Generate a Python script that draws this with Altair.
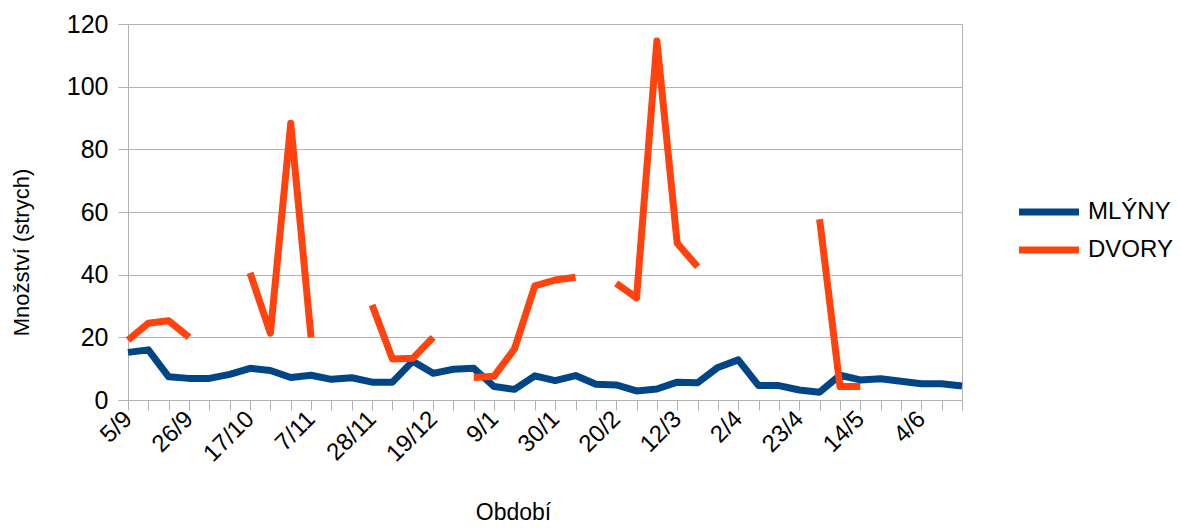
import json
import altair as alt
import pandas as pd

dates = ["5/9", "12/9", "19/9", "26/9", "3/10", "10/10", "17/10", "24/10", "31/10",
         "7/11", "14/11", "21/11", "28/11", "5/12", "12/12", "19/12", "26/12", "2/1",
         "9/1", "16/1", "23/1", "30/1", "6/2", "13/2", "20/2", "27/2", "5/3", "12/3",
         "19/3", "26/3", "2/4", "9/4", "16/4", "23/4", "30/4", "7/5", "14/5", "21/5",
         "28/5", "4/6", "11/6", "18/6"]

mlyny = [15.2, 16.0, 7.4, 6.9, 6.9, 8.2, 10.1, 9.4, 7.2, 7.9, 6.6, 7.1, 5.7, 5.7,
         12.4, 8.5, 9.8, 10.1, 4.3, 3.4, 7.7, 6.2, 7.8, 5.0, 4.8, 2.9, 3.5, 5.7,
         5.5, 10.4, 12.8, 4.6, 4.6, 3.2, 2.5, 7.9, 6.4, 6.8, 6.0, 5.2, 5.2, 4.5]

dvory = [19.1, 24.5, 25.3, 20.0, None, None, 40.6, 21.3, 88.3, 20.0, None, None,
         30.3, 13.1, 13.3, 20.0, None, 7.2, 7.6, 16.3, 36.4, 38.3, 39.2, None,
         37.2, 32.6, 114.6, 50.0, 42.5, None, None, None, None, None, 57.7, 4.3,
         4.3, None, None, None, None, None]

series_names = ["MLÝNY", "DVORY"]
series_colors = ["#004586", "#ff420e"]
y_ticks = [0, 20, 40, 60, 80, 100, 120]

rows = []
for name, vals in zip(series_names, [mlyny, dvory]):
    for d, v in zip(dates, vals):
        rows.append({"date": d, "series": name, "value": v})
df = pd.DataFrame(rows)

FONT = "Liberation Sans"
GRAY = "#b3b3b3"

label_expr = "indexof(%s, datum.value) %% 3 == 0 ? datum.value : ''" % json.dumps(dates)

x = alt.X(
    "date:O",
    sort=dates,
    scale=alt.Scale(type="point", padding=0),
    axis=alt.Axis(
        title="Období",
        labelExpr=label_expr,
        labelAngle=-45,
        labelAlign="right",
        labelBaseline="middle",
        labelOverlap=False,
        labelPadding=5,
        labelFontSize=24,
        labelFont=FONT,
        labelColor="black",
        grid=False,
        tickSize=10,
        tickColor=GRAY,
        domainColor=GRAY,
        titleFont=FONT,
        titleFontSize=23,
        titleFontWeight="normal",
        titleColor="black",
        titleX=385,
        titleY=119,
        titleAlign="center",
        titleBaseline="alphabetic",
    ),
)

y = alt.Y(
    "value:Q",
    scale=alt.Scale(domain=[0, 120], nice=False),
    axis=alt.Axis(
        title="Množství (strych)",
        values=y_ticks,
        labelFontSize=25,
        labelFont=FONT,
        labelColor="black",
        labelPadding=10,
        tickSize=10,
        tickColor=GRAY,
        domainColor=GRAY,
        gridColor=GRAY,
        titleFont=FONT,
        titleFontSize=22,
        titleFontWeight="normal",
        titleColor="black",
        titleX=-107,
        titleY=228,
        titleAngle=-90,
        titleAlign="center",
        titleBaseline="middle",
    ),
)

color = alt.Color(
    "series:N",
    scale=alt.Scale(domain=series_names, range=series_colors),
    legend=alt.Legend(
        title=None,
        orient="none",
        legendX=887.5,
        legendY=173,
        symbolType="stroke",
        symbolSize=3600,
        symbolStrokeWidth=7,
        clipHeight=30,
        rowPadding=8,
        labelFontSize=24,
        labelFont=FONT,
        labelColor="black",
        labelOffset=5.5,
        labelLimit=200,
        padding=0,
    ),
)

base = alt.Chart(df).mark_line(
    strokeWidth=7, strokeJoin="round", strokeCap="butt",
    invalid="break-paths-show-domains",
).encode(x=x, y=y, color=color)

chart = alt.layer(
    base.transform_filter(alt.datum.series == "MLÝNY"),
    base.transform_filter(alt.datum.series == "DVORY"),
).properties(
    width=834,
    height=376,
    autosize=alt.AutoSizeParams(type="none"),
    padding={"left": 120, "top": 16, "right": 211, "bottom": 124},
).configure_view(stroke=GRAY, strokeWidth=1)

chart.save("out.html", embed_options={"renderer": "svg", "actions": False})
